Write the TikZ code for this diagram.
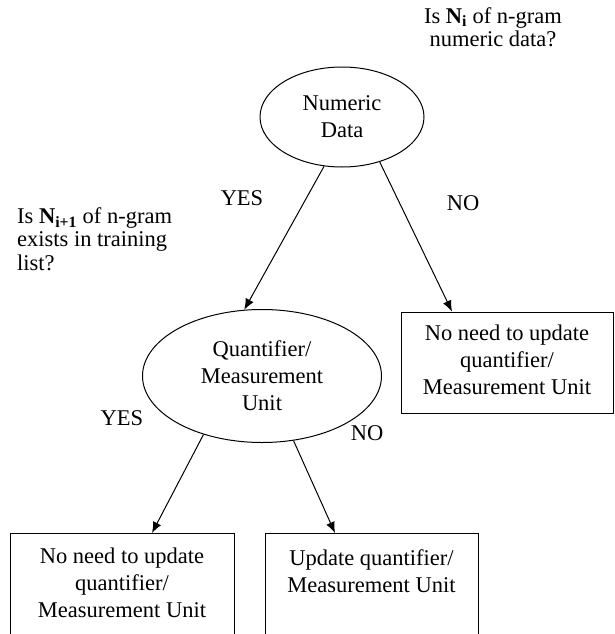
\documentclass[tikz,border=0pt]{standalone}
\usepackage{fontspec}
\setmainfont{Liberation Serif}
\usetikzlibrary{shapes.geometric}
\usetikzlibrary{arrows.meta}

\tikzset{
	decision/.style={ellipse, draw, line width=1pt, align=center, inner sep=0pt, font=\fontsize{22.5}{27}\selectfont},
	box/.style={rectangle, draw, line width=1pt, inner sep=0pt},
	boxtext/.style={align=center, inner sep=0pt, font=\fontsize{22.5}{27}\selectfont},
	question/.style={inner sep=0pt, font=\fontsize{22.5}{23.5}\selectfont},
	answer/.style={inner sep=0pt, font=\fontsize{22.5}{24}\selectfont},
	arr/.style={-{Latex[length=11pt,width=9pt]}, line width=1pt}
}

\begin{document}
\begin{tikzpicture}[x=1pt,y=-1pt]

	% page of the reference, the lower boxes run off its bottom edge
	\clip (0,0) rectangle (614,634);

	% the two tests
	\node[decision, minimum width=164, minimum height=100] (numeric) at (342,117) {Numeric\\Data};
	\node[decision, minimum width=239, minimum height=133] (quant) at (262,376) {Quantifier/\\Measurement\\Unit};

	% outcomes
	\node[box, minimum width=212, minimum height=101] (noneedA) at (507,362.5) {};
	\node[boxtext] (noneedAtxt) at (507,360) {No need to update\\quantifier/\\Measurement Unit};
	\node[box, minimum width=224, minimum height=130, anchor=north] (noneedB) at (122,533) {};
	\node[boxtext] (noneedBtxt) at (122,583) {No need to update\\quantifier/\\Measurement Unit};
	\node[box, minimum width=213, minimum height=130, anchor=north] (update) at (371.5,533) {};
	\node[boxtext] (updatetxt) at (371.5,571) {Update quantifier/\\Measurement Unit};

	% questions asked at each test
	\node[question, align=center] (qnum) at (493,27) {Is \textbf{N\textsubscript{i}} of n-gram\\numeric data?};
	\node[question, align=left, anchor=west] (qquant) at (17,239) {Is \textbf{N\textsubscript{i+1}} of n-gram\\exists in training\\list?};

	% answers on the branches
	\node[answer] (yesA) at (242,198) {YES};
	\node[answer] (noA) at (463,203) {NO};
	\node[answer] (yesB) at (122,418) {YES};
	\node[answer] (noB) at (367,433) {NO};

	% branches
	\draw[arr] (numeric.250) -- (quant.105);
	\draw[arr] (numeric.310) -- ([xshift=-55]noneedA.north);
	\draw[arr] (quant.225) -- ([xshift=30]noneedB.north);
	\draw[arr] (quant.296) -- ([xshift=-36.5]update.north);

\end{tikzpicture}
\end{document}
